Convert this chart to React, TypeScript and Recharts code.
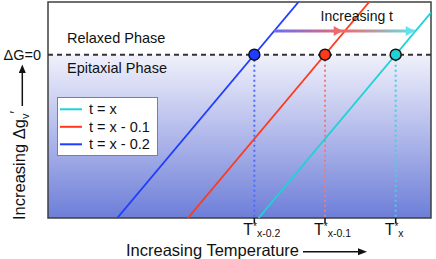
import {
  ComposedChart, Line, XAxis, YAxis, ReferenceArea, ReferenceLine, ReferenceDot, Legend, Label
} from 'recharts';

const FONT = "Arial, 'Liberation Sans', sans-serif";
const INK = '#111';

// T* ticks (where each line crosses ΔG = 0)
const critTemps = [3, 4, 5];
const critSubs = ['x-0.2', 'x-0.1', 'x'];

// series, legend order
const seriesNames = ['t = x', 't = x - 0.1', 't = x - 0.2'];
const seriesColors = ['#1fd2d6', '#ff3a1c', '#1f3dff'];
const guideColors = ['#45d0e6', '#f07a7a', '#4a6cff'];
const seriesCrossT = [5, 4, 3];

// line endpoints (T, Δg)
const cyanLine = [{ T: 3.06, g: -3.1 }, { T: 5.5, g: 0.8 }];
const redLine = [{ T: 2.06, g: -3.1 }, { T: 4.625, g: 1 }];
const blueLine = [{ T: 1.06, g: -3.1 }, { T: 3.625, g: 1 }];
const seriesLines = [cyanLine, redLine, blueLine];

// "Increasing t" arrow
const arrowT = [3.28, 4.25, 5.27];
const arrowG = 0.45;
const arrowHeadColors = ['', '#f06a6a', '#5fe3ee'];

const xDomain = [0.08, 5.5];
const yDomain = [-3.1, 1];

const TempTick = (props: any) => {
  const { x, y, payload } = props;
  const i = critTemps.indexOf(payload.value);
  return (
    <text x={x - 11} y={y + 10} fontFamily={FONT} fontSize={16} fill={INK}>
      T<tspan fontSize={10} dy={-5}>*</tspan>
      <tspan fontSize={10.5} dy={7}>{critSubs[i]}</tspan>
    </text>
  );
};

const XTitle = (props: any) => {
  const { x, y } = props.viewBox;
  const ay = y + 33.7;
  return (
    <g>
      <text x={x + 78} y={y + 38} fontFamily={FONT} fontSize={16.5} fill={INK}>Increasing Temperature</text>
      <line x1={x + 255} x2={x + 312} y1={ay} y2={ay} stroke={INK} strokeWidth={1.5} />
      <polygon points={`${x + 319},${ay} ${x + 310},${ay - 3.5} ${x + 310},${ay + 3.5}`} fill={INK} />
    </g>
  );
};

const YTitle = (props: any) => {
  const { x, y } = props.viewBox;
  const bx = x + 25;
  const by = y + 218;
  const ax = x + 22.3;
  return (
    <g>
      <text x={bx} y={by} transform={`rotate(-90 ${bx} ${by})`} fontFamily={FONT} fontSize={16.5} fill={INK}>
        Increasing Δg<tspan fontSize={11} dy={4}>v</tspan><tspan fontSize={14} dy={-9}>′</tspan>
      </text>
      <line x1={ax} x2={ax} y1={y + 104} y2={y + 69} stroke={INK} strokeWidth={1.5} />
      <polygon points={`${ax},${y + 62.5} ${ax - 3.5},${y + 71} ${ax + 3.5},${y + 71}`} fill={INK} />
    </g>
  );
};

const ZeroLabel = (props: any) => {
  const { x, y } = props.viewBox;
  return (
    <text x={x - 7} y={y + 5} textAnchor="end" fontFamily={FONT} fontSize={14.5} fill={INK}>ΔG=0</text>
  );
};

const RelaxedLabel = (props: any) => {
  const { x, y, height } = props.viewBox;
  return (
    <text x={x + 19} y={y + height - 11.4} fontFamily={FONT} fontSize={14.5} fill={INK}>Relaxed Phase</text>
  );
};

const EpiLabel = (props: any) => {
  const { x, y } = props.viewBox;
  return (
    <text x={x + 19} y={y + 18.6} fontFamily={FONT} fontSize={14.5} fill={INK}>Epitaxial Phase</text>
  );
};

const TLabel = (props: any) => {
  const { x, y, width } = props.viewBox;
  return (
    <text x={x + (width || 0) / 2} y={y} textAnchor="middle" fontFamily={FONT} fontSize={14} fill={INK}>Increasing t</text>
  );
};

const ArrowHead = (props: any) => {
  const { cx, cy, index } = props;
  if (!index) return <g key={`ah-${index}`} />;
  return (
    <polygon
      key={`ah-${index}`}
      points={`${cx},${cy} ${cx - 9},${cy - 5} ${cx - 9},${cy + 5}`}
      fill={arrowHeadColors[index]}
    />
  );
};

const LegendBox = (props: any) => {
  const payload = props.payload || [];
  const items = seriesNames.map(n => payload.find((p: any) => p.value === n)).filter(Boolean);
  return (
    <div style={{ width: 101, height: 59, boxSizing: 'border-box', border: '1px solid #808080', background: '#fff' }}>
      <svg width={99} height={57} style={{ display: 'block' }}>
        {items.map((p: any, i: number) => {
          const cy = 11.3 + 17.5 * i;
          return (
            <g key={p.value}>
              <line x1={2} x2={24} y1={cy} y2={cy} stroke={p.color} strokeWidth={2} />
              <text x={31} y={cy + 5} fontFamily={FONT} fontSize={14.5} fill={INK}>{p.value}</text>
            </g>
          );
        })}
      </svg>
    </div>
  );
};

export default function App() {
  return (
    <div style={{ position: 'absolute', left: 0, top: 0, background: '#fff' }}>
      <ComposedChart width={436} height={259} margin={{ top: 2, right: 5, bottom: 0, left: 0 }}>
        <defs>
          <linearGradient id="epiGrad" x1="0" y1="0" x2="0" y2="1">
            <stop offset="0%" stopColor="#f0f1fb" />
            <stop offset="50%" stopColor="#b0b8ea" />
            <stop offset="100%" stopColor="#6d7ed8" />
          </linearGradient>
          <linearGradient id="arrowGrad" gradientUnits="userSpaceOnUse" x1={275} y1={0} x2={415} y2={0}>
            <stop offset="0%" stopColor="#6c6cf2" />
            <stop offset="50%" stopColor="#f06a6a" />
            <stop offset="100%" stopColor="#5fe3ee" />
          </linearGradient>
        </defs>

        <XAxis
          type="number"
          dataKey="T"
          domain={xDomain}
          ticks={critTemps}
          height={41}
          axisLine={false}
          tickSize={5}
          tickLine={{ stroke: INK, strokeWidth: 1.5 }}
          tick={<TempTick />}
          allowDataOverflow
        >
          <Label content={<XTitle />} />
        </XAxis>
        <YAxis
          type="number"
          dataKey="g"
          domain={yDomain}
          width={48}
          tick={false}
          tickLine={false}
          axisLine={false}
          allowDataOverflow
        >
          <Label content={<YTitle />} />
        </YAxis>

        <ReferenceArea x1={xDomain[0]} x2={xDomain[1]} y1={yDomain[0]} y2={0} fill="url(#epiGrad)" fillOpacity={1} stroke="none">
          <Label content={<EpiLabel />} />
        </ReferenceArea>
        <ReferenceArea x1={xDomain[0]} x2={xDomain[1]} y1={0} y2={yDomain[1]} fill="none" fillOpacity={0} stroke="none">
          <Label content={<RelaxedLabel />} />
        </ReferenceArea>
        <ReferenceArea x1={xDomain[0]} x2={xDomain[1]} y1={yDomain[0]} y2={yDomain[1]} fill="none" fillOpacity={0} stroke="#404040" strokeWidth={1.5} />
        <ReferenceLine y={0} stroke="#333" strokeWidth={2} strokeDasharray="5 4">
          <Label content={<ZeroLabel />} />
        </ReferenceLine>
        <ReferenceDot x={4.45} y={0.645} r={0} fill="none" stroke="none">
          <Label content={<TLabel />} />
        </ReferenceDot>

        {seriesCrossT.map((t, i) => (
          <Line
            key={`guide-${i}`}
            data={[{ T: t, g: 0 }, { T: t, g: yDomain[0] }]}
            dataKey="g"
            stroke={guideColors[i]}
            strokeWidth={2}
            strokeDasharray="2 3"
            dot={false}
            activeDot={false}
            legendType="none"
            isAnimationActive={false}
          />
        ))}

        {seriesLines.map((pts, i) => (
          <Line
            key={seriesNames[i]}
            name={seriesNames[i]}
            data={pts}
            dataKey="g"
            stroke={seriesColors[i]}
            strokeWidth={1.8}
            dot={false}
            activeDot={false}
            isAnimationActive={false}
          />
        ))}

        <Line
          data={arrowT.map(T => ({ T, g: arrowG }))}
          dataKey="g"
          stroke="url(#arrowGrad)"
          strokeWidth={3}
          dot={<ArrowHead />}
          activeDot={false}
          legendType="none"
          isAnimationActive={false}
        />

        {seriesCrossT.map((t, i) => (
          <Line
            key={`mark-${i}`}
            data={[{ T: t, g: 0 }]}
            dataKey="g"
            stroke="none"
            dot={{ r: 5.5, fill: seriesColors[i], stroke: INK, strokeWidth: 1.5 }}
            activeDot={false}
            legendType="none"
            isAnimationActive={false}
          />
        ))}

        <Legend
          content={<LegendBox />}
          layout="horizontal"
          verticalAlign="middle"
          align="center"
          wrapperStyle={{ left: 57, top: 97, bottom: 'auto', width: 101, height: 59 }}
        />
      </ComposedChart>
    </div>
  );
}
